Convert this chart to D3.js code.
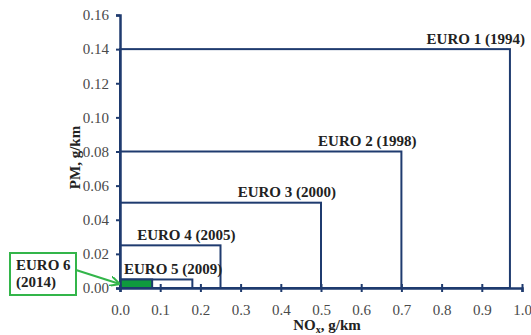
<!DOCTYPE html>
<html>
<head>
<meta charset="utf-8">
<script src="https://cdn.jsdelivr.net/npm/d3@7"></script>
<style>
  body { margin: 0; background: #fff; }
  text { font-family: "Liberation Serif", "Times New Roman", serif; }
  .tick text { fill: #4a4a4a; font-size: 15px; font-family: "Liberation Serif", serif; }
</style>
</head>
<body>
<div id="chart"></div>
<script>
// emission limits for diesel cars
const stages = ["EURO 1 (1994)", "EURO 2 (1998)", "EURO 3 (2000)", "EURO 4 (2005)", "EURO 5 (2009)", "EURO 6 (2014)"];
const noxLimits = [0.97, 0.7, 0.5, 0.25, 0.18, 0.08];
const pmLimits = [0.14, 0.08, 0.05, 0.025, 0.005, 0.005];
const xTicks = [0, 0.1, 0.2, 0.3, 0.4, 0.5, 0.6, 0.7, 0.8, 0.9, 1.0];
const yTicks = [0, 0.02, 0.04, 0.06, 0.08, 0.1, 0.12, 0.14, 0.16];

const width = 531, height = 335;
const margin = { top: 15, right: 9, bottom: 47, left: 120 };
const navy = "#1f3b6f", green = "#0f9a3e", callout = "#33b54a";

const svg = d3.select("#chart").append("svg")
    .attr("width", width)
    .attr("height", height);

const x = d3.scaleLinear().domain([0, 1]).range([margin.left, width - margin.right]);
const y = d3.scaleLinear().domain([0, 0.16]).range([height - margin.bottom, margin.top]);

const data = stages.map((s, i) => ({ name: s, nox: noxLimits[i], pm: pmLimits[i] }));

// limit boxes, biggest first
svg.append("g").selectAll("rect")
    .data(data)
    .join("rect")
    .attr("x", x(0))
    .attr("y", d => y(d.pm))
    .attr("width", d => x(d.nox) - x(0))
    .attr("height", d => y(0) - y(d.pm))
    .attr("fill", (d, i) => i == data.length - 1 ? green : "none")
    .attr("stroke", navy)
    .attr("stroke-width", 2);

// axes
const xAxis = svg.append("g")
    .attr("transform", `translate(0,${y(0)})`)
    .call(d3.axisBottom(x).tickValues(xTicks).tickFormat(d3.format(".1f")).tickSize(4).tickPadding(12));
xAxis.selectAll(".tick line").attr("y1", -4);

const yAxis = svg.append("g")
    .attr("transform", `translate(${x(0)},0)`)
    .call(d3.axisLeft(y).tickValues(yTicks).tickFormat(d3.format(".2f")).tickSize(4).tickPadding(7));

svg.selectAll(".domain").attr("stroke", navy).attr("stroke-width", 2.5);
svg.selectAll(".tick line").attr("stroke", navy).attr("stroke-width", 2);

// stage labels (EURO 6 gets a callout instead)
const labels = svg.append("g").selectAll("text")
    .data(data.slice(0, 5))
    .join("text")
    .attr("y", d => y(d.pm) - 5.5)
    .attr("text-anchor", "end")
    .attr("font-size", 15)
    .attr("font-weight", "bold")
    .attr("fill", "#222")
    .text(d => d.name);
labels.attr("x", function (d) {
    const w = this.getComputedTextLength();
    return Math.max(x(d.nox) + 15, x(0) + 4 + w);
});

// axis titles
svg.append("text")
    .attr("x", (x(0) + x(1)) / 2 + 6)
    .attr("y", height - 5)
    .attr("text-anchor", "middle")
    .attr("font-size", 15)
    .attr("font-weight", "bold")
    .attr("fill", "#222")
    .html('NO<tspan font-size="10" dy="3">x</tspan><tspan dy="-3">, g/km</tspan>');

svg.append("text")
    .attr("transform", `translate(80,${(y(0) + y(0.16)) / 2 + 6}) rotate(-90)`)
    .attr("text-anchor", "middle")
    .attr("font-size", 15)
    .attr("font-weight", "bold")
    .attr("fill", "#222")
    .text("PM, g/km");

// EURO 6 callout
const e6 = data[data.length - 1];
svg.append("defs").append("marker")
    .attr("id", "arrow")
    .attr("viewBox", "0 0 10 10")
    .attr("refX", 9).attr("refY", 5)
    .attr("markerWidth", 5).attr("markerHeight", 5)
    .attr("orient", "auto")
    .append("path")
    .attr("d", "M0,0L10,5L0,10")
    .attr("fill", "none")
    .attr("stroke", callout)
    .attr("stroke-width", 2);

const box = { x: 10, y: 253, w: 66, h: 42 };
svg.append("rect")
    .attr("x", box.x).attr("y", box.y)
    .attr("width", box.w).attr("height", box.h)
    .attr("fill", "#fff")
    .attr("stroke", callout)
    .attr("stroke-width", 2);

const parts = e6.name.split(" (");
svg.append("text")
    .attr("x", box.x + 6).attr("y", box.y + 17)
    .attr("font-size", 15).attr("font-weight", "bold").attr("fill", "#222")
    .text(parts[0]);
svg.append("text")
    .attr("x", box.x + 6).attr("y", box.y + 34)
    .attr("font-size", 15).attr("font-weight", "bold").attr("fill", "#222")
    .text("(" + parts[1]);

svg.append("line")
    .attr("x1", box.x + box.w).attr("y1", box.y + 17)
    .attr("x2", x(0) - 1).attr("y2", y(e6.pm / 2))
    .attr("stroke", callout)
    .attr("stroke-width", 2)
    .attr("marker-end", "url(#arrow)");
</script>
</body>
</html>
